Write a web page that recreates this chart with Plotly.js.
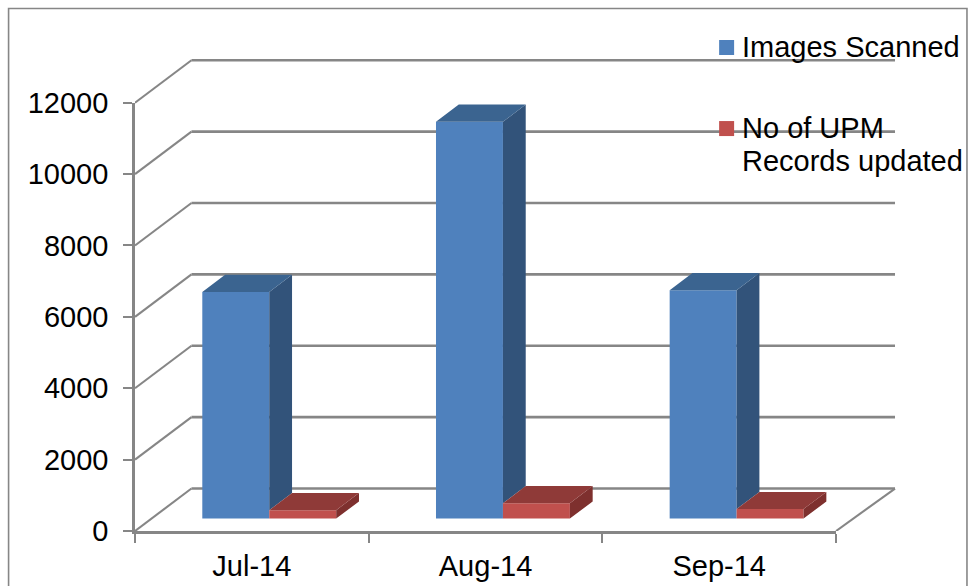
<!DOCTYPE html>
<html>
<head>
<meta charset="utf-8">
<script src="https://cdn.plot.ly/plotly-3.0.1.min.js"></script>
<style>
  html, body { margin: 0; padding: 0; background: #fff; }
  #chart { width: 968px; height: 586px; }
</style>
</head>
<body>
<div id="chart"></div>
<script>
// Monthly scanning volumes
const categories = ['Jul-14', 'Aug-14', 'Sep-14'];
const imagesScanned = [6350, 11120, 6400];
const upmRecordsUpdated = [235, 430, 265];
const yTicks = [0, 2000, 4000, 6000, 8000, 10000, 12000];

const seriesLabels = ['Images Scanned', 'No of UPM', 'Records updated'];

// Pseudo-3D projection, in axis units
const Y_MAX = 12000;
const WALL_DX = 0.2416;      // how far right the back wall sits
const WALL_DY = 1190;        // how far up the back wall sits
const WALL_RIGHT = 3.2523;   // right end of the back wall
const BAR_DX = 0.0975;       // bar depth, horizontal
const BAR_DY = 480;          // bar depth, vertical
const BAR_FLOOR = 348;       // front of the bars stands on this level
const BAR_W = 0.2865;
const BAR_OFFSET = 0.288;

const colors = {
  blue: { front: '#4F81BD', top: '#3B6490', side: '#32537A' },
  red:  { front: '#C0504D', top: '#8F3A38', side: '#7E302E' }
};
const WALL_COLOR = '#868686';
const TEXT_COLOR = '#000000';
const FONT = '"Liberation Sans", Arial, sans-serif';
const FONT_SIZE = 29;

// The wall subplot fills the margins' box; the value axes occupy its lower-left part
const W = 968, H = 586;
const M = { l: 134.5, r: 50, t: 40, b: 55.3, autoexpand: false };
const AXES_W = 701.5, AXES_H = 428;
const boxW = W - M.l - M.r, boxH = H - M.t - M.b;
const paperX = px => (px - M.l) / boxW;
const paperY = py => (H - M.b - py) / boxH;

// Back wall: gridlines run from the axis up the side wall, then across the back
const sideX = [], sideY = [], backX = [], backY = [];
yTicks.forEach(v => {
  sideX.push(0, WALL_DX, null);
  sideY.push(v, v + WALL_DY, null);
  backX.push(WALL_DX, WALL_RIGHT, null);
  backY.push(v + WALL_DY, v + WALL_DY, null);
});
// Right edge of the floor
sideX.push(3, WALL_RIGHT);
sideY.push(0, WALL_DY);

const barX = (i, s) => i + BAR_OFFSET + s * BAR_W;

function face(xs, ys, color, name) {
  return {
    x: xs, y: ys, xaxis: 'x2', yaxis: 'y2', type: 'scatter', mode: 'lines',
    fill: 'toself', fillcolor: color, line: { width: 0 }, hoverinfo: 'skip',
    showlegend: false, name: name
  };
}

// Top and side faces of each column, derived from the same values as the fronts
function depthFaces(values, s, palette, floors) {
  const topX = [], topY = [], sX = [], sY = [];
  values.forEach((v, i) => {
    const x0 = barX(i, s), x1 = x0 + BAR_W, top = v + BAR_FLOOR;
    const low = floors ? floors[i] + BAR_FLOOR : BAR_FLOOR;
    topX.push(x0, x1, x1 + BAR_DX, x0 + BAR_DX, x0, null);
    topY.push(top, top, top + BAR_DY, top + BAR_DY, top, null);
    sX.push(x1, x1 + BAR_DX, x1 + BAR_DX, x1, x1, null);
    sY.push(top, top + BAR_DY, low + BAR_DY, low, top, null);
  });
  return [face(sX, sY, palette.side, 'side'), face(topX, topY, palette.top, 'top')];
}

function frontBars(values, s, color, name) {
  return {
    type: 'bar', xaxis: 'x2', yaxis: 'y2', name: name, showlegend: false,
    x: values.map((_, i) => barX(i, s) + BAR_W / 2),
    y: values, base: values.map(() => BAR_FLOOR), width: BAR_W,
    marker: { color: color, line: { width: 0 } },
    customdata: categories, hovertemplate: '%{customdata}: %{y}<extra></extra>'
  };
}

const data = [
  { x: sideX, y: sideY, type: 'scatter', mode: 'lines',
    line: { color: WALL_COLOR, width: 2.1 }, showlegend: false, hoverinfo: 'skip' },
  { x: backX, y: backY, type: 'scatter', mode: 'lines',
    line: { color: WALL_COLOR, width: 2.6 }, showlegend: false, hoverinfo: 'skip' },
  frontBars(imagesScanned, 0, colors.blue.front, 'Images Scanned'),
  frontBars(upmRecordsUpdated, 1, colors.red.front, 'No of UPM Records updated'),
  ...depthFaces(imagesScanned, 0, colors.blue, upmRecordsUpdated),
  ...depthFaces(upmRecordsUpdated, 1, colors.red, null)
];

const tickFont = { family: FONT, size: FONT_SIZE, color: TEXT_COLOR };

function legendText(text, centerY) {
  return {
    text: text, xref: 'paper', yref: 'paper', x: paperX(741), y: paperY(centerY),
    xanchor: 'left', yanchor: 'middle', showarrow: false, align: 'left',
    borderpad: 0, font: tickFont
  };
}

function legendSwatch(top, color) {
  return {
    type: 'rect', xref: 'paper', yref: 'paper', layer: 'above',
    x0: paperX(719), x1: paperX(734), y0: paperY(top + 15), y1: paperY(top),
    fillcolor: color, line: { width: 0 }
  };
}

const layout = {
  width: W, height: H, margin: M, paper_bgcolor: '#fff', plot_bgcolor: 'rgba(0,0,0,0)',
  barmode: 'overlay', showlegend: false, hovermode: 'closest',
  font: { family: FONT, size: FONT_SIZE, color: TEXT_COLOR },
  // wall subplot, no visible axes, same units as the value axes
  xaxis: { domain: [0, 1], range: [0, 3 * boxW / AXES_W], visible: false },
  yaxis: { domain: [0, 1], range: [0, Y_MAX * boxH / AXES_H], visible: false },
  xaxis2: {
    domain: [0, AXES_W / boxW], anchor: 'y2', type: 'linear', range: [0, 3],
    showgrid: false, zeroline: false,
    showline: true, linecolor: WALL_COLOR, linewidth: 2.6,
    tickmode: 'array', tickvals: [0.5, 1.5, 2.5], ticktext: categories, ticks: '',
    ticklabelstandoff: 7,
    minor: { tickmode: 'array', tickvals: [0, 1, 2, 3], ticks: 'outside', ticklen: 9, tickwidth: 2, tickcolor: WALL_COLOR, showgrid: false },
    tickfont: tickFont
  },
  yaxis2: {
    domain: [0, AXES_H / boxH], anchor: 'x2', range: [0, Y_MAX],
    showgrid: false, zeroline: false,
    showline: true, linecolor: WALL_COLOR, linewidth: 2.6,
    tickmode: 'array', tickvals: yTicks, tickformat: 'd',
    ticks: 'outside', ticklen: 9, tickwidth: 2, tickcolor: WALL_COLOR,
    ticklabelstandoff: 9,
    tickfont: tickFont
  },
  annotations: [
    legendText(seriesLabels[0], 47),
    legendText(seriesLabels[1], 128),
    legendText(seriesLabels[2], 161)
  ],
  shapes: [
    {
      type: 'path', xref: 'paper', yref: 'paper', layer: 'below',
      path: `M ${paperX(8)},${paperY(586)} L ${paperX(8)},${paperY(8.5)} L ${paperX(967)},${paperY(8.5)} L ${paperX(967)},${paperY(586)}`,
      line: { color: WALL_COLOR, width: 1.6 }
    },
    legendSwatch(40, colors.blue.front),
    legendSwatch(121, colors.red.front)
  ]
};

Plotly.newPlot('chart', data, layout, { displayModeBar: false, responsive: false });
</script>
</body>
</html>
